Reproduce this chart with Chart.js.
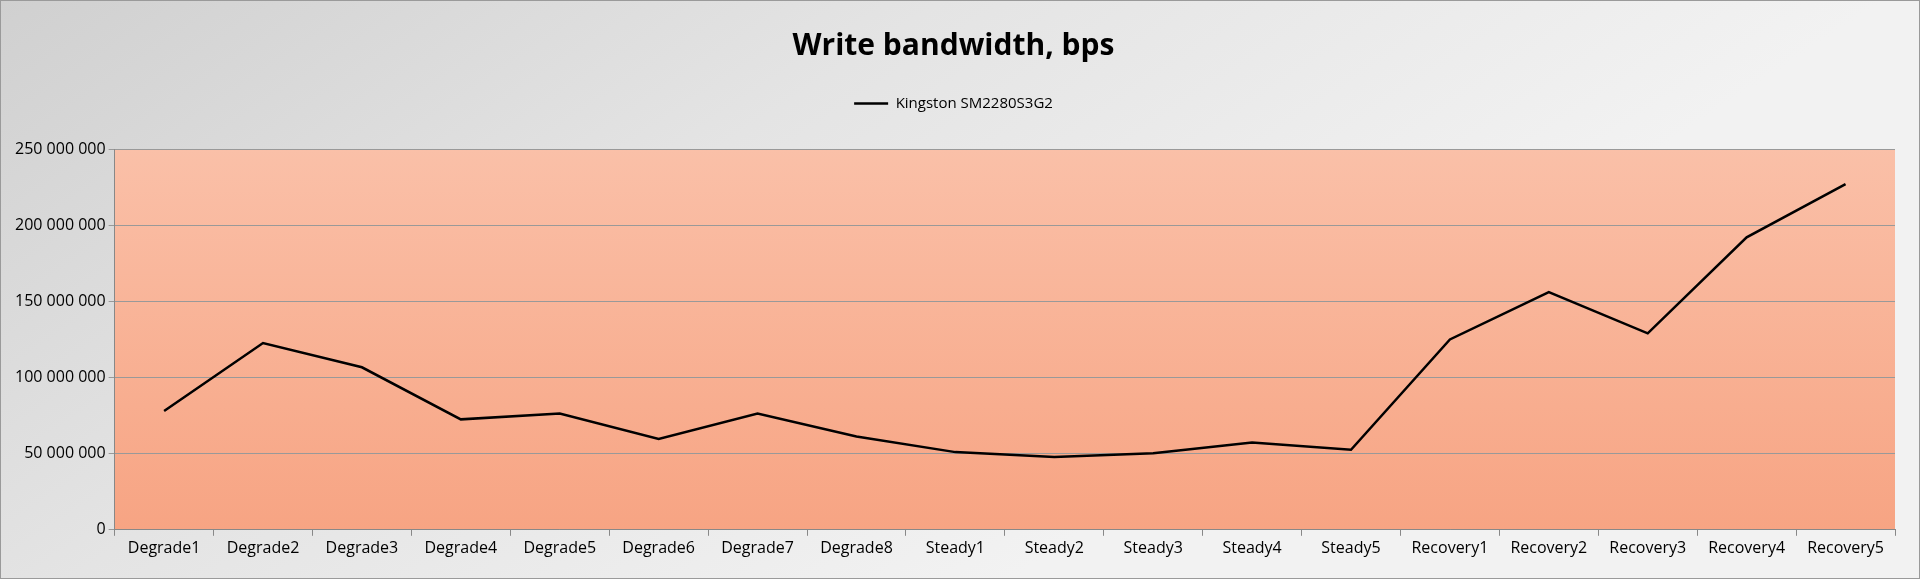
<!DOCTYPE html>
<html><head><meta charset="utf-8">
<script src="https://cdn.jsdelivr.net/npm/chart.js@4"></script>
<style>html,body{margin:0;padding:0;}#wrap{width:1920px;height:579px;}</style>
</head><body><div id="wrap"><canvas id="c" width="1920" height="579"></canvas></div>
<script>
var categories = ['Degrade1','Degrade2','Degrade3','Degrade4','Degrade5','Degrade6','Degrade7','Degrade8',
  'Steady1','Steady2','Steady3','Steady4','Steady5','Recovery1','Recovery2','Recovery3','Recovery4','Recovery5'];
var seriesName = 'Kingston SM2280S3G2';
var bandwidth = [78000000,122600000,106700000,72500000,76400000,59700000,76400000,61300000,
  51000000,47800000,50200000,57300000,52500000,125000000,156000000,129000000,192000000,227000000];

var bg = {
  id: 'bg',
  beforeDraw: function (chart) {
    var c = chart.ctx, w = chart.width, h = chart.height, a = chart.chartArea;
    var g = c.createLinearGradient(0, 0, w * 0.3, h * 1.5);
    g.addColorStop(0, '#d0d0d0'); g.addColorStop(0.5, '#e4e4e4'); g.addColorStop(1, '#f2f2f2');
    c.save();
    c.fillStyle = g; c.fillRect(0, 0, w, h);
    c.strokeStyle = '#9a9a9a'; c.lineWidth = 1; c.strokeRect(0.5, 0.5, w - 1, h - 1);
    var p = c.createLinearGradient(0, a.top, 0, a.bottom);
    p.addColorStop(0, '#fac0a8'); p.addColorStop(1, '#f7a483');
    c.fillStyle = p; c.fillRect(a.left, a.top, a.right - a.left, a.bottom - a.top);
    c.restore();
  }
};

var legendGap = {
  id: 'legendGap',
  beforeInit: function (chart) {
    var fit = chart.legend.fit;
    chart.legend.fit = function () { fit.bind(chart.legend)(); this.height += 28; };
  }
};

new Chart(document.getElementById('c').getContext('2d'), {
  type: 'line',
  data: { labels: categories, datasets: [{ label: seriesName, data: bandwidth, borderColor: '#000', borderWidth: 2.5, pointRadius: 0, fill: false, tension: 0 }] },
  options: {
    responsive: false, animation: false,
    layout: { padding: { left: 12, right: 25, top: 10, bottom: 18 } },
    plugins: {
      title: { display: true, text: 'Write bandwidth, bps', color: '#000', font: { family: 'Open Sans', size: 30, weight: 'bold' }, padding: { top: 18, bottom: 22 } },
      legend: { labels: { color: '#000', font: { family: 'Open Sans', size: 15 }, boxWidth: 34, boxHeight: 0, padding: 10 } },
      tooltip: { enabled: false }
    },
    scales: {
      x: { offset: true, grid: { offset: true, color: '#888', drawOnChartArea: false, tickLength: 6 }, border: { color: '#888' },
           ticks: { color: '#000', font: { family: 'Open Sans', size: 16 }, maxRotation: 0, autoSkip: false } },
      y: { min: 0, max: 250000000, grid: { color: '#999', tickLength: 6 }, border: { color: '#888' },
           ticks: { stepSize: 50000000, color: '#000', font: { family: 'Open Sans', size: 16 },
             callback: function (v) { return String(v).replace(/\B(?=(\d{3})+(?!\d))/g, ' '); } } }
    }
  },
  plugins: [bg, legendGap]
});
</script></body></html>
